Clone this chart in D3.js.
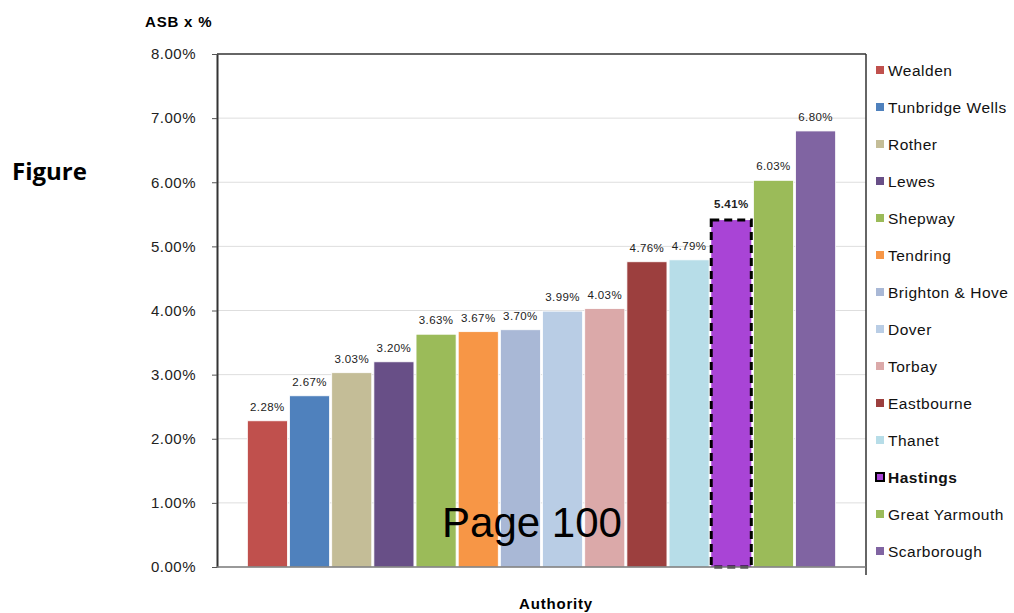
<!DOCTYPE html>
<html>
<head>
<meta charset="utf-8">
<script src="https://cdn.jsdelivr.net/npm/d3@7"></script>
<style>
  body { margin: 0; background: #fff; }
  text { font-family: "Liberation Sans", Arial, sans-serif; }
</style>
</head>
<body>
<div id="graphicContainer"></div>
<script>

const authorities = ["Wealden", "Tunbridge Wells", "Rother", "Lewes", "Shepway", "Tendring",
  "Brighton & Hove", "Dover", "Torbay", "Eastbourne", "Thanet", "Hastings", "Great Yarmouth", "Scarborough"]

const asbValues = [2.28, 2.67, 3.03, 3.20, 3.63, 3.67, 3.70, 3.99, 4.03, 4.76, 4.79, 5.41, 6.03, 6.80]

const barColors = ["#C0504D", "#4F81BD", "#C4BD97", "#684F87", "#9BBB59", "#F79646",
  "#A9B8D6", "#B9CDE5", "#DBA9A9", "#9C3F3E", "#B7DDE8", "#A944D6", "#9BBB59", "#8064A2"]

const yTicks = [0, 1, 2, 3, 4, 5, 6, 7, 8]

const highlight = "Hastings"

const width = 1014
const height = 613
const margin = { left: 217, right: 148, top: 54, bottom: 46 }

const svg = d3.select("#graphicContainer")
  .append("svg")
  .attr("width", width)
  .attr("height", height)

const plotW = width - margin.left - margin.right
const plotH = height - margin.top - margin.bottom

const x = d3.scaleBand()
  .domain(authorities)
  .range([margin.left, margin.left + plotW])
  .paddingInner(0.05)
  .paddingOuter(0.72)

const y = d3.scaleLinear()
  .domain([0, 8])
  .range([margin.top + plotH, margin.top])

// gridlines
svg.append("g")
  .selectAll("line")
  .data(yTicks.filter(d => d > 0 && d < 8))
  .enter()
  .append("line")
  .attr("x1", margin.left)
  .attr("x2", margin.left + plotW)
  .attr("y1", d => y(d))
  .attr("y2", d => y(d))
  .style("stroke", "#dedede")
  .style("stroke-width", 1)

// bars
const data = authorities.map((a, i) => ({ name: a, value: asbValues[i], color: barColors[i] }))

svg.append("g")
  .selectAll("rect")
  .data(data)
  .enter()
  .append("rect")
  .attr("x", d => x(d.name))
  .attr("y", d => y(d.value))
  .attr("width", x.bandwidth())
  .attr("height", d => y(0) - y(d.value))
  .style("fill", d => d.color)
  .style("stroke", d => d.name == highlight ? "#000" : "#fff")
  .style("stroke-width", d => d.name == highlight ? 3 : 0.8)
  .style("stroke-dasharray", d => d.name == highlight ? "8,5" : null)

// value labels
svg.append("g")
  .selectAll("text")
  .data(data)
  .enter()
  .append("text")
  .attr("x", d => x(d.name) + x.bandwidth() / 2)
  .attr("y", d => y(d.value) - (d.name == highlight ? 12 : 10))
  .attr("text-anchor", "middle")
  .style("font-size", "11.5px")
  .style("letter-spacing", "0.4px")
  .style("font-weight", d => d.name == highlight ? "bold" : "normal")
  .style("fill", "#222")
  .text(d => d.value.toFixed(2) + "%")

// y axis
const yAxis = svg.append("g")
  .attr("transform", `translate(${margin.left},0)`)
  .call(d3.axisLeft(y)
    .tickValues(yTicks)
    .tickSize(5)
    .tickSizeOuter(0)
    .tickPadding(16)
    .tickFormat(d => d.toFixed(2) + "%"))

yAxis.select(".domain").style("stroke", "#333").style("stroke-width", 2)
yAxis.selectAll(".tick line").style("stroke", "#555")
yAxis.selectAll(".tick text")
  .style("font-size", "15px")
  .style("letter-spacing", "0.5px")
  .style("fill", "#222")
  .style("font-family", "'Liberation Sans', Arial, sans-serif")

// frame: top and right
svg.append("line")
  .attr("x1", margin.left).attr("x2", margin.left + plotW)
  .attr("y1", y(8)).attr("y2", y(8))
  .style("stroke", "#333").style("stroke-width", 1.5)

svg.append("line")
  .attr("x1", margin.left + plotW).attr("x2", margin.left + plotW)
  .attr("y1", y(8)).attr("y2", y(0) + 8)
  .style("stroke", "#333").style("stroke-width", 1.5)

// bottom axis
svg.append("line")
  .attr("x1", margin.left).attr("x2", margin.left + plotW)
  .attr("y1", y(0)).attr("y2", y(0))
  .style("stroke", "#777").style("stroke-width", 1.5)

// legend
const legend = svg.append("g")
  .attr("transform", "translate(876,71)")

const legendRow = legend.selectAll("g")
  .data(data)
  .enter()
  .append("g")
  .attr("transform", (d, i) => `translate(0,${i * 37})`)

legendRow.append("rect")
  .attr("x", 0)
  .attr("y", -5)
  .attr("width", 8)
  .attr("height", 8)
  .style("fill", d => d.color)
  .style("stroke", d => d.name == highlight ? "#000" : "none")
  .style("stroke-width", d => d.name == highlight ? 2 : 0)

legendRow.append("text")
  .attr("x", 12)
  .attr("y", 5)
  .style("font-size", "15.5px")
  .style("letter-spacing", "0.5px")
  .style("font-weight", d => d.name == highlight ? "bold" : "normal")
  .style("fill", "#111")
  .text(d => d.name)

// titles
svg.append("text")
  .attr("x", 145)
  .attr("y", 27)
  .style("font-size", "15px")
  .style("letter-spacing", "0.8px")
  .style("font-weight", "bold")
  .text("ASB x %")

svg.append("text")
  .attr("x", 556)
  .attr("y", 609)
  .attr("text-anchor", "middle")
  .style("font-size", "15px")
  .style("letter-spacing", "0.8px")
  .style("font-weight", "bold")
  .text("Authority")

svg.append("text")
  .attr("x", 12)
  .attr("y", 180)
  .style("font-family", "'Open Sans', 'Liberation Sans', sans-serif")
  .style("font-size", "24px")
  .style("font-weight", "bold")
  .text("Figure")

svg.append("text")
  .attr("x", 532)
  .attr("y", 537)
  .attr("text-anchor", "middle")
  .style("font-size", "42px")
  .style("fill", "#000")
  .text("Page 100")

</script>
</body>
</html>
